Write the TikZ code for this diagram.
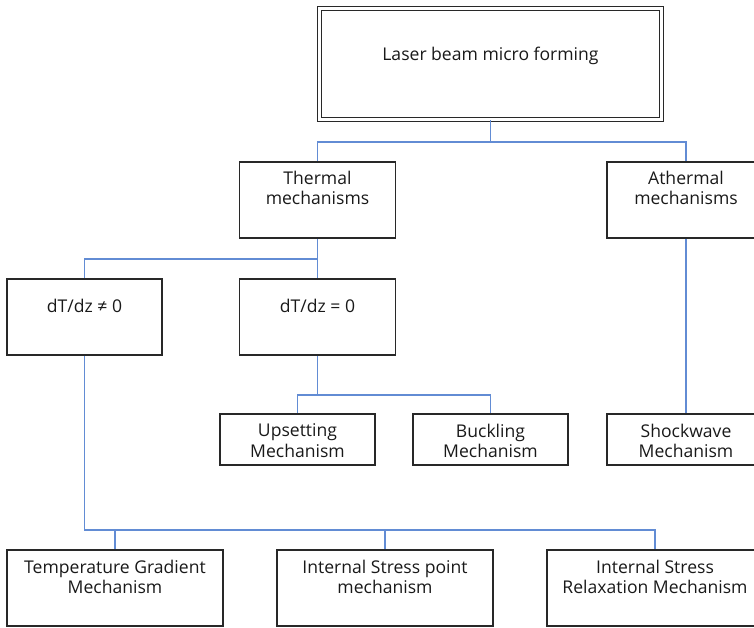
\documentclass[tikz,border=0pt]{standalone}
\usepackage{fontspec}
\setmainfont{Open Sans}
\definecolor{linkblue}{RGB}{98,140,212}
\definecolor{boxgray}{RGB}{40,40,40}

\begin{document}
\begin{tikzpicture}[x=.02cm,y=-.02cm,font=\fontsize{10}{11.5}\selectfont,
  box/.style={draw=boxgray,line width=1.1pt,inner sep=0pt},
  txt/.style={anchor=north,align=center,inner sep=0pt,text=black!90},
  link/.style={draw=linkblue,line width=.9pt}]
\useasboundingbox (0,0) rectangle (754,627);

% rows where the connectors branch
\coordinate (r1) at (0,142);
\coordinate (r2) at (0,259);
\coordinate (r3) at (0,395);
\coordinate (r4) at (0,530);

\node[box,double=white,double distance=1.4pt,line width=.9pt,
  minimum width=6.84cm,minimum height=2.22cm,
  label={[txt,yshift=-22pt]north:Laser beam micro forming}] (top) at (490.5,64) {};

\node[box,minimum width=3.12cm,minimum height=1.52cm,
  label={[txt,yshift=-5.5pt]north:Thermal\\mechanisms}] (thermal) at (317.5,200) {};
\node[box,minimum width=3.16cm,minimum height=1.52cm,
  label={[txt,yshift=-5.5pt]north:Athermal\\mechanisms}] (athermal) at (686,200) {};

\node[box,minimum width=3.1cm,minimum height=1.52cm,
  label={[txt,yshift=-12pt]north:dT/dz ≠ 0}] (dtne) at (84.5,317) {};
\node[box,minimum width=3.12cm,minimum height=1.52cm,
  label={[txt,yshift=-12pt]north:dT/dz = 0}] (dteq) at (317.5,317) {};

\node[box,minimum width=3.1cm,minimum height=1.02cm,
  label={[txt,yshift=-6pt]north:Upsetting\\Mechanism}] (upset) at (297.5,439.5) {};
\node[box,minimum width=3.1cm,minimum height=1.02cm,
  label={[txt,yshift=-6pt]north:Buckling\\Mechanism}] (buckl) at (490.5,439.5) {};
\node[box,minimum width=3.16cm,minimum height=1.02cm,
  label={[txt,yshift=-6pt]north:Shockwave\\Mechanism}] (shock) at (686,439.5) {};

\node[box,minimum width=4.32cm,minimum height=1.52cm,
  label={[txt,yshift=-6pt]north:Temperature Gradient\\Mechanism}] (tempgrad) at (115,588) {};
\node[box,minimum width=4.32cm,minimum height=1.52cm,
  label={[txt,yshift=-6pt]north:Internal Stress point\\mechanism}] (isp) at (385,588) {};
\node[box,minimum width=4.32cm,minimum height=1.52cm,
  label={[txt,yshift=-6pt]north:Internal Stress\\Relaxation Mechanism}] (isr) at (655,588) {};

\draw[link] (top.south) -- (top.south |- r1) -| (thermal.north);
\draw[link] (top.south |- r1) -| (athermal.north);

\draw[link] (thermal.south) -- (dteq.north);
\draw[link] (thermal.south |- r2) -| (dtne.north);

\draw[link] (dteq.south) -- (dteq.south |- r3);
\draw[link] (upset.north) |- (buckl.north |- r3) -- (buckl.north);

\draw[link] (athermal.south) -- (shock.north);

\draw[link] (dtne.south) |- (isr.north |- r4) -- (isr.north);
\draw[link] (tempgrad.north) -- (tempgrad.north |- r4);
\draw[link] (isp.north) -- (isp.north |- r4);

\end{tikzpicture}
\end{document}
